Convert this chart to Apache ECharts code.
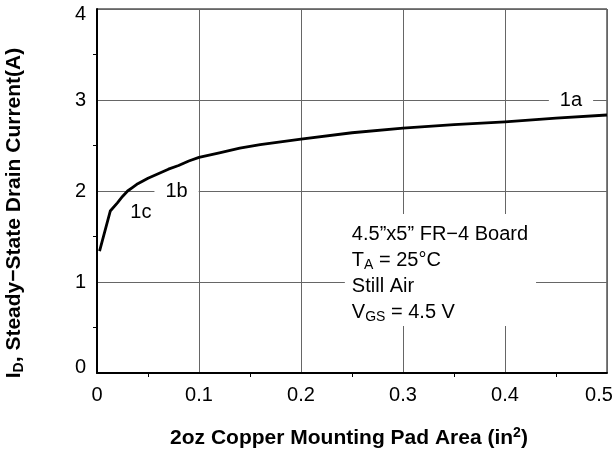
<!DOCTYPE html>
<html><head><meta charset="utf-8">
<script src="https://cdn.jsdelivr.net/npm/echarts@6/dist/echarts.min.js"></script>
<style>html,body{margin:0;padding:0;background:#fff}#c{width:614px;height:453px}</style>
</head><body><div id="c"></div>
<script>
// ---- data ----
const padArea      = [0.0025, 0.013, 0.02, 0.025, 0.03, 0.035, 0.04, 0.05, 0.06, 0.07, 0.08, 0.09, 0.1, 0.12, 0.14, 0.16, 0.18, 0.2, 0.25, 0.3, 0.35, 0.4, 0.45, 0.5];
const drainCurrent = [1.34, 1.78, 1.87, 1.94, 2.00, 2.04, 2.08, 2.14, 2.19, 2.24, 2.28, 2.33, 2.37, 2.42, 2.47, 2.51, 2.54, 2.57, 2.64, 2.69, 2.73, 2.76, 2.80, 2.835];
const xTickValues = [0, 0.1, 0.2, 0.3, 0.4, 0.5];
const yTickValues = [0, 1, 2, 3, 4];
const curveLabels = ['1a', '1b', '1c'];
const curveLabelX = [0.4647, 0.078, 0.043];
const curveLabelY = [3, 2, 1.76];
const noteLines = ['4.5\u201Dx5\u201D FR\u22124 Board', 'T{sub|A} = 25\u00B0C', 'Still Air', 'V{sub|GS} = 4.5 V'];
const noteAnchor = [0.243, 1.747];
const xTitle = '2oz Copper Mounting Pad Area (in{sup|2})';
const yTitle = 'I{sub|D}, Steady\u2212State Drain Current(A)';

const FONT = '"Liberation Sans", Arial, Helvetica, sans-serif';
const chart = echarts.init(document.getElementById('c'), null, {renderer: 'canvas'});

const option = {
  animation: false,
  backgroundColor: '#fff',
  grid: {left: 97, right: 7, top: 9, bottom: 80, containLabel: false, outerBoundsMode: 'none',
    show: true, borderColor: '#000', borderWidth: 1, backgroundColor: 'transparent'},
  xAxis: {
    type: 'value', min: 0, max: 0.5, interval: 0.1,
    axisLine: {show: true, onZero: false, lineStyle: {color: '#000', width: 2}},
    axisTick: {show: false},
    minorTick: {show: true, splitNumber: 2, length: 4, lineStyle: {color: '#000', width: 1}},
    splitLine: {show: true, lineStyle: {color: '#666', width: 1}},
    axisLabel: {
      margin: 12, color: '#000', fontFamily: FONT, fontSize: 20,
      formatter: v => { const i = xTickValues.findIndex(t => Math.abs(t - v) < 1e-9); if (i < 0) return ''; const s = String(xTickValues[i]); return i === xTickValues.length - 1 ? '{last|' + s + '}' : s; },
      rich: {last: {fontFamily: FONT, fontSize: 20, color: '#000', padding: [0, 16, 0, 0]}}
    },
    name: xTitle, nameLocation: 'middle', nameGap: 55, nameMoveOverlap: false,
    nameTextStyle: {color: '#000', fontFamily: FONT, fontSize: 21, fontWeight: 'bold', padding: [0, 6, 0, 0],
      rich: {sup: {fontFamily: FONT, fontSize: 14, fontWeight: 'bold', color: '#000', lineHeight: 14, padding: [0, 0, 10, 0]}}}
  },
  yAxis: {
    type: 'value', min: 0, max: 4, interval: 1,
    axisLine: {show: true, onZero: false, lineStyle: {color: '#000', width: 2}},
    axisTick: {show: false},
    minorTick: {show: true, splitNumber: 2, length: 4, lineStyle: {color: '#000', width: 1}},
    splitLine: {show: true, lineStyle: {color: '#666', width: 1}},
    axisLabel: {
      margin: 11, color: '#000', fontFamily: FONT, fontSize: 20,
      formatter: v => { const i = yTickValues.indexOf(v); if (i < 0) return ''; if (i === yTickValues.length - 1) return '{top|' + v + '}'; if (i === 0) return '{bot|' + v + '}'; return String(v); },
      rich: {top: {fontFamily: FONT, fontSize: 20, color: '#000', padding: [10, 0, 0, 0]},
             bot: {fontFamily: FONT, fontSize: 20, color: '#000', padding: [0, 0, 12, 0]}}
    },
    name: yTitle, nameLocation: 'middle', nameGap: 72, nameRotate: 90, nameMoveOverlap: false,
    nameTextStyle: {color: '#000', fontFamily: FONT, fontSize: 21, fontWeight: 'bold', padding: [0, 44, 0, 0],
      rich: {sub: {fontFamily: FONT, fontSize: 14, fontWeight: 'bold', color: '#000', lineHeight: 14, padding: [10, 0, 0, 0]}}}
  },
  series: [{
    type: 'line', data: padArea.map((x, i) => [x, drainCurrent[i]]),
    showSymbol: false, symbol: 'none', smooth: false,
    lineStyle: {color: '#000', width: 2.8, join: 'round'}, z: 5
  }]
};
chart.setOption(option);

const elements = [];
curveLabels.forEach((t, i) => {
  const p = chart.convertToPixel({gridIndex: 0}, [curveLabelX[i], curveLabelY[i]]);
  const boxed = i < 2;
  elements.push({
    type: 'text', x: p[0], y: p[1], z: 100,
    style: {text: t, font: '20px ' + FONT, fill: '#000',
      align: 'center', verticalAlign: 'middle', textAlign: 'center', textVerticalAlign: 'middle',
      backgroundColor: boxed ? '#fff' : null, padding: boxed ? [2, 11, 2, 11] : 0}
  });
});
const a = chart.convertToPixel({gridIndex: 0}, noteAnchor);
elements.push({
  type: 'text', x: a[0], y: a[1], z: 100,
  style: {
    text: noteLines.map(l => l.replace(/(^|\})([^{}]+?)(?=\{|$)/g, (m, pre, body) => pre + '{n|' + body + '}')).join('\n'),
    font: '20px ' + FONT, fill: '#000', lineHeight: 26,
    align: 'left', verticalAlign: 'top', textAlign: 'left', textVerticalAlign: 'top',
    backgroundColor: '#fff', padding: [7, 8, 1, 7],
    rich: {
      n: {fontFamily: FONT, fontSize: 20, lineHeight: 26, fill: '#000', color: '#000'},
      sub: {fontFamily: FONT, fontSize: 14, lineHeight: 16, padding: [10, 0, 0, 0], fill: '#000', color: '#000'}
    }
  }
});
chart.setOption({graphic: {elements}});
</script></body></html>
